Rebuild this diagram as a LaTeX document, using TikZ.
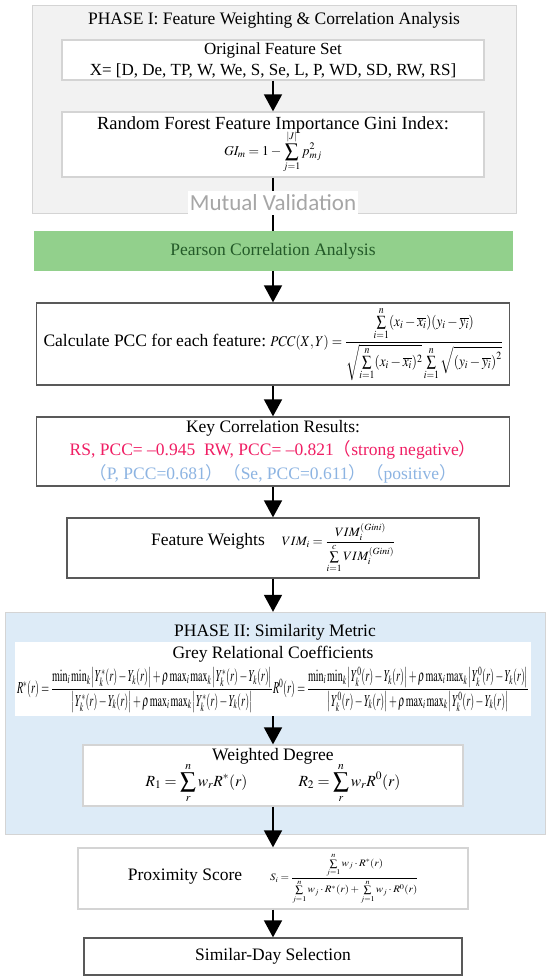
\documentclass[tikz,border=0pt]{standalone}
\usepackage{mathptmx}
\usepackage{amsmath}
\usepackage{graphicx}
\usepackage{fontspec}
\setmainfont{Liberation Serif}
\newfontfamily\calibri{Carlito}
\newfontfamily\cjk{Noto Sans CJK SC}
\usepackage{tikz}
\usetikzlibrary{arrows.meta}

\definecolor{boxlight}{RGB}{212,212,212}
\definecolor{boxdark}{RGB}{89,89,89}
\definecolor{phaseonegray}{RGB}{242,242,242}
\definecolor{phasetwoblue}{RGB}{221,235,247}
\definecolor{pearsongreen}{RGB}{146,208,140}
\definecolor{pearsontext}{RGB}{35,90,40}
\definecolor{negred}{RGB}{240,30,100}
\definecolor{posblue}{RGB}{141,180,226}
\definecolor{mvgray}{RGB}{166,166,166}

\begin{document}
\begin{tikzpicture}[x=1pt, y=-1pt,
            every node/.style={font=\fontsize{17.5}{21}\selectfont},
            box/.style={draw=boxdark, line width=1.3pt, fill=white, align=center, inner sep=2pt},
            lightbox/.style={box, draw=boxlight},
            flow/.style={line width=1.8pt, -{Triangle[width=18pt,length=17pt]}},
            plainline/.style={line width=1.8pt}]

            \useasboundingbox (0,0) rectangle (550,979);

            \node[draw=boxlight, fill=phaseonegray, minimum width=484pt, minimum height=208pt] (phaseone) at (274,109) {};
            \node[draw=boxlight, fill=phasetwoblue, minimum width=540pt, minimum height=222pt] (phasetwo) at (275,723) {};

            \node (phaseonetitle) at (274,20) {PHASE I: Feature Weighting \& Correlation Analysis};
            \node[lightbox, minimum width=422pt, minimum height=40pt, font=\fontsize{17}{21}\selectfont] (featset) at (273,60)
                {Original Feature Set\\X= [D, De, TP, W, We, S, Se, L, P, WD, SD, RW, RS]};
            \node[lightbox, minimum width=422pt, minimum height=65pt, font=\fontsize{18.5}{21}\selectfont] (gini) at (273,144.5)
                {Random Forest Feature Importance Gini Index:\\[-3pt]
                 {\fontsize{13.5}{13.5}\selectfont $\displaystyle GI_m = 1-\sum_{j=1}^{|J|} p_{mj}^2$}};
            \node[fill=white, minimum width=170pt, minimum height=24pt, inner sep=0pt, text=mvgray,
                  font=\calibri\fontsize{23}{23}\selectfont] (mutual) at (273,203) {Mutual Validation};

            \node[fill=pearsongreen, minimum width=479pt, minimum height=40pt, text=pearsontext] (pearson) at (273,251)
                {Pearson Correlation Analysis};
            \node[box, minimum width=473pt, minimum height=82pt] (pcc) at (273,344)
                {Calculate PCC for each feature:\ \resizebox*{232pt}{74pt}{%
                 $\displaystyle PCC(X,Y)=\frac{\sum\limits_{i=1}^{n}(x_i-\overline{x_i})(y_i-\overline{y_i})}
                 {\sqrt{\sum\limits_{i=1}^{n}(x_i-\overline{x_i})^2}\sum\limits_{i=1}^{n}\sqrt{\left(y_i-\overline{y_i}\right)^2}}$}};
            \node[box, minimum width=473pt, minimum height=69pt, font=\fontsize{17.5}{23.5}\selectfont] (keyres) at (273,451.5)
                {Key Correlation Results:\\
                 \textcolor{negred}{RS, PCC= \textendash0.945\ \ RW, PCC= \textendash0.821{\cjk （}strong negative{\cjk ）}}\\
                 \textcolor{posblue}{{\cjk （}P, PCC=0.681{\cjk ）（}Se, PCC=0.611{\cjk ）（}positive{\cjk ）}}};
            \node[box, minimum width=412pt, minimum height=60pt] (weights) at (273,548)
                {Feature Weights\hspace{17pt}\resizebox*{113pt}{50pt}{%
                 $\displaystyle VIM_i=\frac{VIM_i^{(Gini)}}{\sum\limits_{i=1}^{c}VIM_i^{(Gini)}}$}};

            \node (phasetwotitle) at (275,632) {PHASE II: Similarity Metric};
            \node[fill=white, minimum width=516pt, minimum height=74pt, inner sep=0pt, align=center] (grey) at (273,679)
                {Grey Relational Coefficients\\[4pt]
                 \resizebox*{256pt}{45pt}{$R^{*}(r)=\dfrac{\min_i\min_k\left|Y_k^{*}(r)-Y_k(r)\right|+\rho\max_i\max_k\left|Y_k^{*}(r)-Y_k(r)\right|}
                 {\left|Y_k^{*}(r)-Y_k(r)\right|+\rho\max_i\max_k\left|Y_k^{*}(r)-Y_k(r)\right|}$}%
                 \resizebox*{256pt}{45pt}{$R^{0}(r)=\dfrac{\min_i\min_k\left|Y_k^{0}(r)-Y_k(r)\right|+\rho\max_i\max_k\left|Y_k^{0}(r)-Y_k(r)\right|}
                 {\left|Y_k^{0}(r)-Y_k(r)\right|+\rho\max_i\max_k\left|Y_k^{0}(r)-Y_k(r)\right|}$}};
            \node[lightbox, minimum width=380pt, minimum height=61pt] (degree) at (273,775.5)
                {Weighted Degree\\[-2pt]
                 {\fontsize{15.5}{15.5}\selectfont $\displaystyle R_1=\sum_{r}^{n}w_r R^{*}(r)\hspace{51pt}R_2=\sum_{r}^{n}w_r R^{0}(r)$}};

            \node[lightbox, minimum width=390pt, minimum height=61pt] (proximity) at (273,878.5)
                {Proximity Score\hspace{28pt}\resizebox*{148pt}{50pt}{%
                 $\displaystyle S_i=\frac{\sum\limits_{j=1}^{n}w_j\cdot R^{*}(r)}{\sum\limits_{j=1}^{n}w_j\cdot R^{*}(r)+\sum\limits_{j=1}^{n}w_j\cdot R^{0}(r)}$}};
            \node[box, minimum width=378pt, minimum height=37pt] (simday) at (273,956.5) {Similar-Day Selection};

            \draw[flow] (featset) -- (gini);
            \draw[plainline] (gini) -- (mutual);
            \draw[plainline] (mutual) -- (pearson);
            \draw[flow] (pearson) -- (pcc);
            \draw[flow] (pcc) -- (keyres);
            \draw[flow] (keyres) -- (weights);
            \draw[flow] (weights.south) -- (weights.south |- phasetwo.north);
            \draw[flow] (grey) -- (degree);
            \draw[flow] (degree) -- (proximity);
            \draw[flow] (proximity) -- (simday);

\end{tikzpicture}
\end{document}
